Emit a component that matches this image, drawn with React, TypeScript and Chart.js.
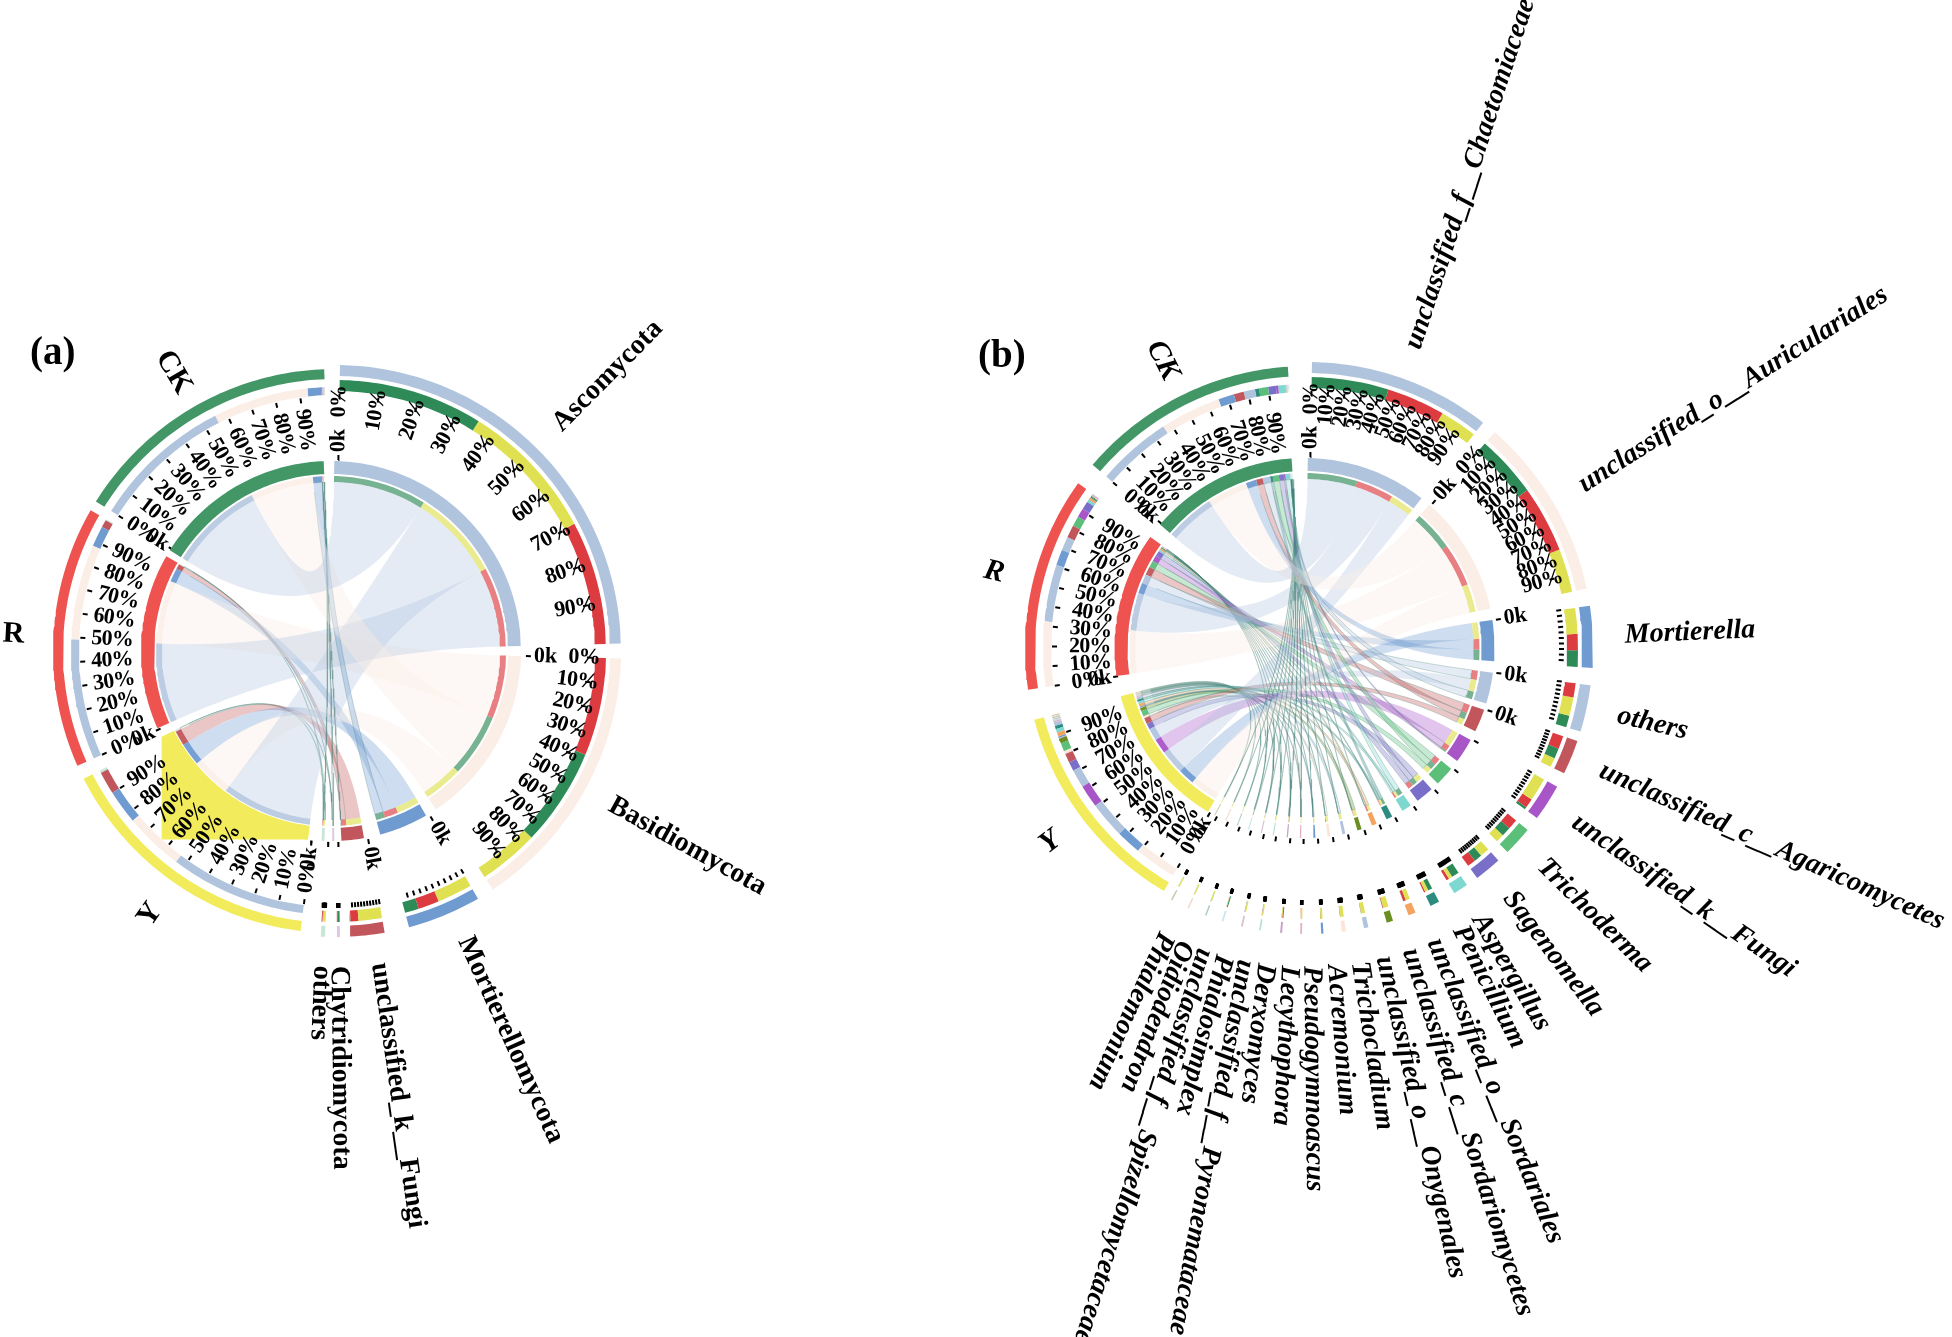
import React, { useEffect, useRef } from 'react';
import { Chart, registerables } from 'chart.js';
Chart.register(...registerables);

// ---------- data: panel (a), phyla ----------
const samples = ['CK', 'Y', 'R'];
const taxaA = ['Ascomycota', 'Basidiomycota', 'Mortierellomycota', 'unclassified_k__Fungi', 'Chytridiomycota', 'others'];
const ckA = [31, 21, 3, 0.15, 0.5, 0.15];
const yA = [30, 13, 7.5, 5, 0.05, 0.5];
const rA = [26.5, 21, 4.5, 1.7, 0.05, 0.2];
const taxonStackA = ['CYR', 'RCY', 'YRC', 'YRC', 'CYR', 'YCR'];
const ckOrderA = [0, 1, 2, 3, 4, 5];
const yOrderA = [0, 1, 2, 3, 5, 4];
const rOrderA = [0, 1, 2, 3, 5, 4];
const taxonColorsA = ['#b0c4de', '#fbeee6', '#6f9bd1', '#c1575c', '#dcc8e0', '#c8e6d8'];

// ---------- data: panel (b), genera ----------
const taxaB = ['unclassified_f__Chaetomiaceae', 'unclassified_o__Auriculariales', 'Mortierella', 'others', 'unclassified_c__Agaricomycetes', 'unclassified_k__Fungi', 'Trichoderma', 'Sagenomella', 'Aspergillus', 'Penicillium', 'unclassified_o__Sordariales', 'unclassified_c__Sordariomycetes', 'unclassified_o__Onygenales', 'Trichocladium', 'Acremonium', 'Pseudogymnoascus', 'Lecythophora', 'Derxomyces', 'unclassified_f__Pyronemataceae', 'Phialosimplex', 'unclassified_f__Spizellomycetaceae', 'Oidiodendron', 'Phialemonium'];
const ckB = [16.5, 13.4, 3.5, 2.5, 2.2, 0.5, 2, 1.7, 1.6, 0.9, 0.05, 0.05, 0.05, 0.05, 0.05, 0.05, 0.05, 0.05, 0.05, 0.2, 0.05, 0.05, 0.05];
const yB = [8, 9.3, 5.5, 4, 2, 5, 1.8, 2, 0.8, 0.7, 0.9, 1.1, 0.8, 0.7, 0.35, 0.3, 0.15, 0.25, 0.25, 0.1, 0.25, 0.25, 0.25];
const rB = [12.5, 14.3, 3.5, 3, 2.8, 2, 2.2, 1.8, 0.6, 0.3, 0.55, 0.15, 0.05, 0.05, 0.05, 0.05, 0.2, 0.05, 0.05, 0.05, 0, 0, 0];
const taxonStackB = ['CRY', 'CRY', 'YRC', 'RYC', 'RCY', 'YRC', 'RCY', 'YCR', 'CYR', 'CYR', 'YRC', 'YRC', 'YRC', 'YRC', 'YRC', 'YRC', 'RYC', 'YRC', 'YRC', 'CYR', 'YC', 'YC', 'YC'];
const ckOrderB = [0, 1, 2, 4, 3, 9, 6, 7, 5, 8, 10, 11, 12, 13, 14, 15, 16, 17, 18, 19, 20, 21, 22];
const rOrderB = [1, 0, 2, 3, 4, 6, 5, 7, 8, 10, 9, 11, 12, 13, 14, 15, 16, 17, 18, 19];
const yOrderB = [1, 2, 0, 5, 3, 7, 4, 13, 6, 11, 16, 14, 10, 8, 9, 12, 15, 17, 18, 19, 20, 21, 22];
const taxonColorsB = ['#b0c4de', '#fbeee6', '#6f9bd1', '#b0c4de', '#c1575c', '#a855c8', '#5bbf7a', '#7a6fc8', '#7dd8d0', '#2e8b80', '#f4a460', '#6b8e23', '#b0c4de', '#fbe4d8', '#6f9bd1', '#e8b0c0', '#c8a2c8', '#b8e0d8', '#d8c0d0', '#c8e8e8', '#a8d0b8', '#f4d8c8', '#c8c8a8'];

const percentTicks = ['0%', '10%', '20%', '30%', '40%', '50%', '60%', '70%', '80%', '90%'];

// ---------- layout ----------
const PANEL_A = {
  left: 0, width: 976, cx: 335, cy: 651, innerDx: -4, tag: '(a)', tagX: 30, tagY: 354, italic: false,
  taxa: taxaA, values: [ckA, yA, rA], orders: [ckOrderA, yOrderA, rOrderA], stack: taxonStackA, colors: taxonColorsA,
  taxonStarts: [1, 91.5, 150, 170, 179, 182], sampleStarts: [302, 187, 246],
  pctTaxa: 2, zeroTaxa: 4, pctLeft: 244, labelR: 315, corner: true,
  labelNudge: [0, 0, -1.8, -1.5, 0, 0], rayStretch: 1,
};
const PANEL_B = {
  left: 976, width: 976, cx: 331, cy: 648, innerDx: -2.5, tag: '(b)', tagX: 2, tagY: 357, italic: true,
  taxa: taxaB, values: [ckB, yB, rB], orders: [ckOrderB, yOrderB, rOrderB], stack: taxonStackB, colors: taxonColorsB,
  taxonStarts: [1, 41, 81.5, 97.5, 109, 119, 129.5, 138, 146, 152.5, 157.7, 162.5, 167.6, 172.2, 176.7, 181, 185, 189.3, 193, 197, 200.6, 204.4, 208.1], sampleStarts: [310.5, 210.5, 261.5],
  pctTaxa: 2, zeroTaxa: 5, pctLeft: 238, labelR: 318, corner: false,
  labelNudge: [0, 0, 0, 0, 0, 0, 0, 0, 0, -2, -2, -2, -2, -2, -2, -2, -2, -2, -2, -2, -2, -2, -2], rayStretch: 1.08,
};
const HEIGHT = 1337;
const RIB = 169, THIN = 175, BAND_IN = 177, BAND_OUT = 190;
const T_TICK = [252, 257], T_STACK = [260, 271], T_OUTER = [275, 286];
const S_TICK = [250, 255], S_STACK = [256, 264], S_OUTER = [272, 282];
const SAMPLE_BAND = ['#439766', '#f2ec5c', '#ee5350'];
const SAMPLE_STACK = ['#2e8b57', '#dfe052', '#dc3b40'];
const RIBBON_EDGE = 'rgba(70,130,120,0.4)';
const KEY: Record<string, number> = { C: 0, Y: 1, R: 2 };

function pt(r: number, deg: number) {
  const t = (deg * Math.PI) / 180;
  return { x: r * Math.sin(t), y: r * Math.cos(t) };
}
function arc(r: number, a: number, b: number) {
  const n = Math.max(2, Math.ceil(Math.abs(b - a)) + 1);
  const out = [];
  for (let i = 0; i < n; i++) out.push(pt(r, a + ((b - a) * i) / (n - 1)));
  return out;
}
function rgba(hex: string, alpha: number) {
  const v = parseInt(hex.slice(1), 16);
  return `rgba(${v >> 16},${(v >> 8) & 255},${v & 255},${alpha})`;
}
function curve(p0: any, p2: any) {
  const out = [];
  for (let i = 1; i < 36; i++) {
    const t = i / 36;
    out.push({ x: (1 - t) * (1 - t) * p0.x + t * t * p2.x, y: (1 - t) * (1 - t) * p0.y + t * t * p2.y });
  }
  return out;
}
const poly = (data: any[], color: string, edge?: string) => ({
  data, showLine: true, fill: 'shape', backgroundColor: color, borderColor: edge || color,
  borderWidth: edge ? 0.7 : 0, pointRadius: 0, tension: 0, parsing: false,
});
const ring = (a: number, b: number, r: number[], color: string) =>
  poly([...arc(r[1], a, b), ...arc(r[0], b, a)], color);
const stroke = (p: number, r: number[]) => ({
  data: [pt(r[0], p), pt(r[1], p)], showLine: true, fill: false, borderColor: '#000', backgroundColor: '#000',
  borderWidth: 2, pointRadius: 0, parsing: false,
});

function build(cfg: any) {
  const inner: any[] = [];
  const ribbons: any[] = [];
  const marks: any[] = [];
  const labels: any[] = [];
  const weightFont = (size: number, it: boolean) => `${it ? 'italic ' : ''}bold ${size}px "Liberation Serif"`;
  const pctFont = weightFont(22, false);

  const spans = cfg.taxa.map((_: string, t: number) => cfg.values.reduce((s: number, row: number[]) => s + row[t], 0));
  const sampleSpans = cfg.values.map((row: number[]) => row.reduce((s, v) => s + v, 0));

  const taxonPos: Record<string, [number, number]> = {};
  cfg.taxa.forEach((_: string, t: number) => {
    let at = cfg.taxonStarts[t];
    for (const ch of cfg.stack[t]) {
      const s = KEY[ch];
      const v = cfg.values[s][t];
      taxonPos[`${s}-${t}`] = [at, at + v];
      at += v;
    }
  });

  if (cfg.corner) {
    const a = cfg.sampleStarts[1];
    const b = a + sampleSpans[1];
    const xMin = pt(BAND_OUT, b).x;
    const yMin = pt(BAND_OUT, a).y;
    inner.push(poly([...arc(BAND_IN - 1, a, b), { x: xMin, y: pt(BAND_OUT, b).y }, { x: xMin, y: yMin }, { x: pt(BAND_OUT, a).x, y: yMin }], SAMPLE_BAND[1]));
  }

  samples.forEach((name, s) => {
    const start = cfg.sampleStarts[s];
    const end = start + sampleSpans[s];
    inner.push(ring(start, end, [BAND_IN, BAND_OUT], SAMPLE_BAND[s]));
    marks.push(ring(start, end, S_OUTER, SAMPLE_BAND[s]));
    let at = start;
    for (const t of cfg.orders[s]) {
      const v = cfg.values[s][t];
      if (!v) continue;
      const color = cfg.colors[t];
      inner.push(ring(at, at + v, [RIB, THIN], rgba(color, t < 2 ? 0.85 : 0.95)));
      marks.push(ring(at, at + v, S_STACK, color));
      const tp = taxonPos[`${s}-${t}`];
      const big = v >= 3.5;
      ribbons.push(poly(
        [...arc(RIB, at, at + v), ...curve(pt(RIB, at + v), pt(RIB, tp[0])), ...arc(RIB, tp[0], tp[1]), ...curve(pt(RIB, tp[1]), pt(RIB, at))],
        rgba(color, color === '#fbeee6' ? 0.4 : 0.34),
        big ? undefined : RIBBON_EDGE,
      ));
      at += v;
    }
    percentTicks.forEach((txt, i) => {
      const a = start + ((end - start) * i) / 10;
      marks.push(stroke(a, S_TICK));
      labels.push({ text: txt, ...pt(cfg.pctLeft, a), rot: a + 90, align: 'left', font: pctFont, tight: true });
    });
    marks.push(stroke(start, [191, 196]));
    labels.push({ text: '0k', ...pt(198, start), rot: start + 90, align: 'right', font: pctFont });
    const mid = (start + end) / 2;
    labels.push({ text: name, ...pt(322, mid), rot: mid + 90, align: 'center', font: weightFont(30, cfg.italic) });
  });

  cfg.taxa.forEach((name: string, t: number) => {
    const start = cfg.taxonStarts[t];
    const end = start + spans[t];
    const color = cfg.colors[t];
    inner.push(ring(start, end, [BAND_IN, BAND_OUT], color));
    marks.push(ring(start, end, T_OUTER, color));
    for (const ch of cfg.stack[t]) {
      const s = KEY[ch];
      const [a, b] = taxonPos[`${s}-${t}`];
      if (b <= a) continue;
      inner.push(ring(a, b, [RIB, THIN], rgba(SAMPLE_STACK[s], 0.65)));
      marks.push(ring(a, b, T_STACK, SAMPLE_STACK[s]));
    }
    percentTicks.forEach((txt, i) => {
      const a = start + ((end - start) * i) / 10;
      marks.push(stroke(a, T_TICK));
      if (t < cfg.pctTaxa) labels.push({ text: txt, ...pt(265, a), rot: a - 90, align: 'right', font: pctFont, tight: true });
    });
    marks.push(stroke(start, [191, 196]));
    if (t < cfg.zeroTaxa) labels.push({ text: '0k', ...pt(199, start), rot: start - 90, align: 'left', font: pctFont });
    const mid = (start + end) / 2 + cfg.labelNudge[t];
    const t2 = (mid * Math.PI) / 180;
    const ray = (Math.atan2(Math.sin(t2), Math.cos(t2) * cfg.rayStretch) * 180) / Math.PI;
    labels.push({ text: name, ...pt(cfg.labelR, mid), rot: ray - 90, align: 'left', font: weightFont(28, cfg.italic) });
  });

  labels.push({ text: cfg.tag, x: cfg.tagX - cfg.cx, y: cfg.cy - cfg.tagY, rot: 0, align: 'left', font: 'bold 39px "Liberation Serif"' });

  // the inner circle sits slightly off the outer rings
  for (const d of [...inner, ...ribbons]) d.data = d.data.map((p: any) => ({ x: p.x + cfg.innerDx, y: p.y }));
  return { datasets: [...ribbons, ...inner, ...marks], labels };
}

function Panel({ cfg }: { cfg: any }) {
  const ref = useRef<HTMLCanvasElement>(null);
  useEffect(() => {
    const { datasets, labels } = build(cfg);
    const textPlugin = {
      id: 'radialText',
      afterDatasetsDraw(chart: any) {
        const ctx = chart.ctx;
        ctx.save();
        ctx.fillStyle = '#000';
        ctx.textBaseline = 'middle';
        for (const l of labels) {
          ctx.save();
          ctx.translate(chart.scales.x.getPixelForValue(l.x), chart.scales.y.getPixelForValue(l.y));
          ctx.rotate((l.rot * Math.PI) / 180);
          ctx.font = l.font;
          ctx.textAlign = l.align;
          ctx.letterSpacing = l.tight ? '-0.8px' : '0px';
          ctx.fillText(l.text, 0, 0);
          ctx.restore();
        }
        ctx.restore();
      },
    };
    const chart = new Chart(ref.current as HTMLCanvasElement, {
      type: 'scatter',
      data: { datasets },
      options: {
        animation: false,
        responsive: false,
        events: [],
        layout: { padding: 0 },
        plugins: { legend: { display: false }, tooltip: { enabled: false }, title: { display: false } },
        scales: {
          x: { type: 'linear', display: false, min: -cfg.cx, max: cfg.width - cfg.cx },
          y: { type: 'linear', display: false, min: cfg.cy - HEIGHT, max: cfg.cy },
        },
      },
      plugins: [textPlugin],
    } as any);
    return () => chart.destroy();
  }, [cfg]);
  return (
    <canvas
      ref={ref}
      width={cfg.width}
      height={HEIGHT}
      style={{ position: 'absolute', left: cfg.left, top: 0, width: cfg.width, height: HEIGHT }}
    />
  );
}

export default function App() {
  return (
    <div style={{ position: 'absolute', left: 0, top: 0, width: 1952, height: HEIGHT, overflow: 'hidden', background: '#fff' }}>
      <Panel cfg={PANEL_A} />
      <Panel cfg={PANEL_B} />
    </div>
  );
}
